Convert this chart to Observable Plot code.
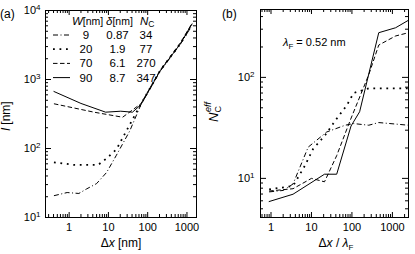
<!DOCTYPE html>
<html><head><meta charset="utf-8">
<script src="https://cdn.jsdelivr.net/npm/d3@7"></script>
<script src="https://cdn.jsdelivr.net/npm/@observablehq/plot@0.6"></script>
<style>
body{margin:0;background:#fff;}
#wrap{position:relative;width:415px;height:254px;font-family:"Liberation Sans",Arial,sans-serif;overflow:hidden;}
.pan{position:absolute;top:0;}
#overlay{position:absolute;left:0;top:0;}
</style></head><body><div id="wrap"><div id="pa" class="pan" style="left:0"></div><div id="pb" class="pan" style="left:207px"></div></div>
<script>
// ---- legend table ----
const legendW = [9, 20, 70, 90];
const legendDelta = ["0.87", "1.9", "6.1", "8.7"];
const legendNC = [34, 77, 270, 347];

// ---- panel (a): l [nm] vs Δx [nm] ----
const a9x  = [0.41, 0.89, 1.77, 2.8, 5, 9, 16, 35, 67, 210, 680, 1350];
const a9y  = [20.7, 23, 22.3, 26, 31, 45, 80, 180, 430, 1330, 3250, 6100];
const a20x = [0.41, 1.3, 5.5, 9, 16, 67, 210, 680, 1350];
const a20y = [63, 58, 58, 72, 97, 440, 1360, 3300, 6250];
const a70x = [0.41, 4.3, 23, 67, 210, 680, 1350];
const a70y = [445, 336, 284, 445, 1380, 3400, 6550];
const a90x = [0.41, 2, 8.5, 20.6, 41, 67, 210, 680, 1350];
const a90y = [670, 450, 336, 347, 336, 430, 1350, 3290, 6400];

// ---- panel (b): N_C^eff vs Δx/λF ----
const b9x  = [0.9, 2, 3.5, 8.3, 23.8, 68, 110, 260, 460, 1200, 2500];
const b9y  = [7.35, 7.6, 8.8, 20.4, 28.8, 33.6, 34.9, 33.6, 35.7, 34.5, 33.6];
const b20x = [0.9, 3.5, 6.9, 11, 21.6, 42, 75, 110, 260, 2500];
const b20y = [7.8, 8.4, 13.4, 19.6, 26.7, 39, 53, 70, 78, 78];
const b70x = [0.9, 3.5, 10, 21, 42, 91, 260, 460, 1200, 2500];
const b70y = [7.5, 7.9, 10, 9.25, 16.8, 37.7, 106, 209, 257, 277];
const b90x = [0.9, 3.5, 21, 42, 95, 155, 460, 1200, 2500];
const b90y = [5.9, 6.97, 11, 11, 33, 45.7, 277, 310, 368];

// ---- axis ticks ----
const xTicksA = [1, 10, 100, 1000];
const yTicksA = [10, 100, 1000, 10000];
const xTicksB = [1, 10, 100, 1000];
const yTicksB = [10, 100];

const styles = {
  9:  {strokeDasharray: "5,2.5,1,2.5", strokeWidth: 1, strokeLinecap: "butt"},
  20: {strokeDasharray: "1.8,4.7", strokeWidth: 1.8, strokeLinecap: "butt"},
  70: {strokeDasharray: "4.5,2.5", strokeWidth: 1, strokeLinecap: "butt"},
  90: {strokeWidth: 1}
};

function rowsOf(list) {
  const out = [];
  for (const [W, xs, ys] of list) xs.forEach((x, i) => out.push({W, x, y: ys[i]}));
  return out;
}
const rowsA = rowsOf([[9, a9x, a9y], [20, a20x, a20y], [70, a70x, a70y], [90, a90x, a90y]]);
const rowsB = rowsOf([[9, b9x, b9y], [20, b20x, b20y], [70, b70x, b70y], [90, b90x, b90y]]);

function minors([lo, hi]) {
  const out = [];
  for (let e = Math.floor(Math.log10(lo)); e <= Math.ceil(Math.log10(hi)); e++)
    for (let k = 2; k <= 9; k++) { const v = k * 10 ** e; if (v >= lo && v <= hi) out.push(v); }
  return out;
}

function panel({rows, xDomain, yDomain, width, ml, mr, mt, mb, xMajor, yMajor, yPad}) {
  const H = 254, fh = H - mt - mb, fw = width - ml - mr;
  const xMin = minors(xDomain), yMin = minors(yDomain);
  const marks = [];
  for (const W of legendW) marks.push(Plot.line(rows.filter(r => r.W === W), {x: "x", y: "y", stroke: "#000", ...styles[W]}));
  const tk = {stroke: "#000", strokeWidth: 1};
  marks.push(
    Plot.ruleX(xMajor, {...tk, insetTop: fh - 5}),
    Plot.ruleX(xMajor, {...tk, insetBottom: fh - 5}),
    Plot.ruleX(xMin, {...tk, insetTop: fh - 3}),
    Plot.ruleX(xMin, {...tk, insetBottom: fh - 3}),
    Plot.ruleY(yMajor, {...tk, insetRight: fw - 6}),
    Plot.ruleY(yMajor, {...tk, insetLeft: fw - 6}),
    Plot.ruleY(yMin, {...tk, insetRight: fw - 3}),
    Plot.ruleY(yMin, {...tk, insetLeft: fw - 3}),
    Plot.frame({stroke: "#000", strokeWidth: 1}),
    Plot.axisX({ticks: xMajor, tickSize: 0, tickPadding: 6, tickFormat: d => String(d), label: null, fill: "#000"}),
    Plot.axisY({ticks: yMajor, tickSize: 0, tickPadding: yPad, tickFormat: d => "10^" + Math.round(Math.log10(d)), label: null, fill: "#000"})
  );
  const svg = Plot.plot({
    width, height: H, marginLeft: ml, marginRight: mr, marginTop: mt, marginBottom: mb,
    x: {type: "log", domain: xDomain},
    y: {type: "log", domain: yDomain},
    style: {fontFamily: "Liberation Sans, Arial, sans-serif", fontSize: "11px", background: "transparent", color: "#000"},
    marks
  });
  svg.querySelectorAll('[aria-label="y-axis tick label"] text').forEach(t => {
    const s = t.textContent;
    if (s.startsWith("10^")) {
      const e = s.slice(3);
      t.textContent = "10";
      const ts = document.createElementNS("http://www.w3.org/2000/svg", "tspan");
      ts.setAttribute("dy", "-0.5em");
      ts.setAttribute("font-size", "8px");
      ts.textContent = e;
      t.appendChild(ts);
    }
  });
  return svg;
}

document.getElementById("pa").appendChild(panel({
  rows: rowsA, xDomain: [0.25, 1750], yDomain: [10, 10000], width: 207,
  ml: 45, mr: 11, mt: 10, mb: 37, xMajor: xTicksA, yMajor: yTicksA, yPad: 5
}));
document.getElementById("pb").appendChild(panel({
  rows: rowsB, xDomain: [0.55, 2500], yDomain: [4.1, 470], width: 208,
  ml: 53, mr: 7, mt: 9, mb: 37, xMajor: xTicksB, yMajor: yTicksB, yPad: 6
}));

// ---- overlay texts: panel labels, legend, annotation, axis titles ----
const NS = "http://www.w3.org/2000/svg";
const ov = document.createElementNS(NS, "svg");
ov.setAttribute("id", "overlay");
ov.setAttribute("width", 415); ov.setAttribute("height", 254);
ov.setAttribute("font-family", "Liberation Sans, Arial, sans-serif");
ov.setAttribute("font-size", "11");
function el(tag, attrs, parent = ov) {
  const e = document.createElementNS(NS, tag);
  for (const k in attrs) e.setAttribute(k, attrs[k]);
  parent.appendChild(e); return e;
}
function rich(x, y, parts, attrs = {}) {
  const t = el("text", {x, y, ...attrs});
  for (const p of parts) {
    const s = el("tspan", p.a || {}, t);
    s.textContent = p.t;
  }
  return t;
}
rich(0, 18, [{t: "(a)"}], {"font-size": 12});
rich(222, 18, [{t: "(b)"}], {"font-size": 12});

// legend header
rich(72, 25, [{t: "W", a: {"font-style": "italic", "font-size": 11.5}}, {t: "[nm]"}], {"font-size": 10.5});
rich(106, 25, [{t: "δ", a: {"font-style": "italic", "font-size": 11.5}}, {t: "[nm]"}], {"font-size": 10.5});
rich(140, 25, [{t: "N", a: {"font-style": "italic", "font-size": 11.5}}, {t: "C", a: {"font-size": 8.5, dy: 2}}], {"font-size": 10.5});
legendW.forEach((W, i) => {
  const yb = 39 + i * 14.2;
  const st = styles[W];
  el("line", {x1: 53, x2: 70, y1: yb - 4, y2: yb - 4, stroke: "#000",
    "stroke-width": st.strokeWidth, "stroke-dasharray": st.strokeDasharray || "none", "stroke-linecap": st.strokeLinecap || "butt"});
  rich(86, yb, [{t: String(W)}], {"text-anchor": "middle", "font-size": 11.5});
  rich(117.5, yb, [{t: legendDelta[i]}], {"text-anchor": "middle", "font-size": 11.5});
  rich(146, yb, [{t: String(legendNC[i])}], {"text-anchor": "middle", "font-size": 11.5});
});

// lambda annotation
rich(283, 46, [{t: "λ", a: {"font-style": "italic"}}, {t: "F", a: {"font-size": 8, dy: 3}}, {t: " = 0.52 nm", a: {dy: -3}}]);

// axis titles
rich(121, 247, [{t: "Δ"}, {t: "x", a: {"font-style": "italic"}}, {t: "  [nm]"}], {"text-anchor": "middle", "font-size": 12});
rich(336, 247, [{t: "Δ"}, {t: "x", a: {"font-style": "italic"}}, {t: " / "}, {t: "λ", a: {"font-style": "italic"}}, {t: "F", a: {"font-size": 8, dy: 3}}], {"text-anchor": "middle", "font-size": 12});
rich(0, 0, [{t: "l", a: {"font-style": "italic"}}, {t: "  [nm]"}], {"text-anchor": "middle", "font-size": 12, transform: "translate(10,116) rotate(-90)"});
rich(0, 0, [{t: "N", a: {"font-style": "italic"}}, {t: "C", a: {"font-size": 9, dy: 3}}, {t: "eff", a: {"font-size": 9, "font-style": "italic", dy: -10, dx: -6}}], {"text-anchor": "middle", "font-size": 13, transform: "translate(218,112) rotate(-90)"});
document.getElementById("wrap").appendChild(ov);
</script></body></html>
